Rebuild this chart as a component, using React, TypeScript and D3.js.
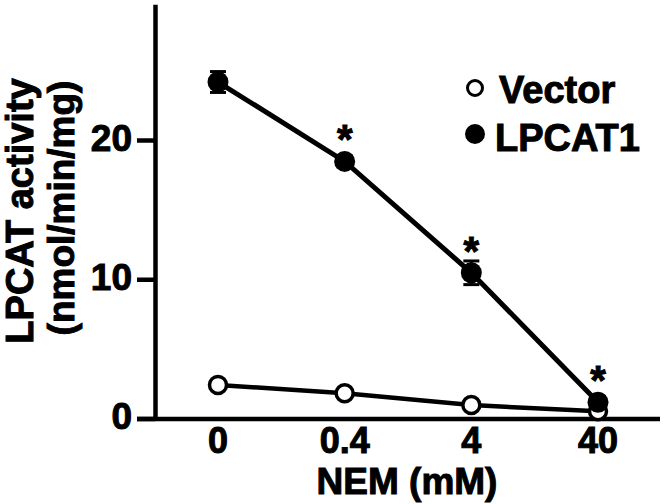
import React from "react";
import * as d3 from "d3";

const categories: string[] = ["0", "0.4", "4", "40"];
const vectorValues: number[] = [2.45, 1.85, 1.0, 0.55];
const vectorErrors: number[] = [0.2, 0.2, 0.2, 0.2];
const lpcatValues: number[] = [24.2, 18.5, 10.5, 1.2];
const lpcatErrors: number[] = [0.75, 0.4, 0.85, 0.4];
const significant: boolean[] = [false, true, true, true];
const yTicks: number[] = [0, 10, 20];
const seriesNames: string[] = ["Vector", "LPCAT1"];

const W = 664;
const H = 504;
const FONT = "'Liberation Sans', Arial, Helvetica, sans-serif";

export default function App() {
  const y = d3.scaleLinear().domain([0, 20]).range([419, 140.5]);
  const x = d3.scalePoint<string>().domain(categories).range([218, 598]);
  const axisX = 155.5;

  const line = d3
    .line<number>()
    .x((_, i) => x(categories[i]) as number)
    .y((d) => y(d));

  const errBars = (vals: number[], errs: number[], key: string) =>
    vals.map((v, i) => {
      const cx = x(categories[i]) as number;
      const top = y(v + errs[i]);
      const bot = y(Math.max(0, v - errs[i]));
      return (
        <g key={`${key}-${i}`} stroke="#000" strokeWidth={3}>
          <line x1={cx} x2={cx} y1={top} y2={bot} />
          <line x1={cx - 8} x2={cx + 8} y1={top} y2={top} />
          <line x1={cx - 8} x2={cx + 8} y1={bot} y2={bot} />
        </g>
      );
    });

  const txt = { fill: "#000", stroke: "#000", strokeWidth: 1 } as const;

  return (
    <svg
      width={W}
      height={H}
      style={{ position: "absolute", left: 0, top: 0, background: "#fff" }}
      fontFamily={FONT}
      fontWeight="bold"
    >
      <rect width={W} height={H} fill="#fff" />
      {/* Y axis */}
      <line x1={axisX} x2={axisX} y1={y(29.75)} y2={y(0) + 2} stroke="#000" strokeWidth={4.5} />
      {yTicks.map((t) => (
        <g key={t}>
          <line x1={137} x2={axisX} y1={y(t)} y2={y(t)} stroke="#000" strokeWidth={4.5} />
          <text x={132} y={y(t) + 10} textAnchor="end" fontSize={37} {...txt}>
            {t}
          </text>
        </g>
      ))}
      {/* X axis */}
      <line x1={137} x2={660} y1={y(0)} y2={y(0)} stroke="#000" strokeWidth={4.5} />
      {categories.map((c) => (
        <text key={c} x={x(c)} y={453} textAnchor="middle" fontSize={36} {...txt}>
          {c}
        </text>
      ))}
      <text x={407} y={494} textAnchor="middle" fontSize={37} {...txt}>
        NEM (mM)
      </text>
      {/* Y label */}
      <text transform="rotate(-90)" x={-211} y={33} textAnchor="middle" fontSize={38} {...txt}>
        LPCAT activity
      </text>
      <text transform="rotate(-90)" x={-208} y={74} textAnchor="middle" fontSize={37} {...txt}>
        (nmol/min/mg)
      </text>

      {/* Vector series */}
      <path d={line(vectorValues) || ""} fill="none" stroke="#000" strokeWidth={4.5} />
      {errBars(vectorValues, vectorErrors, "ve")}
      {vectorValues.map((v, i) => (
        <circle key={`v${i}`} cx={x(categories[i])} cy={y(v)} r={8.5} fill="#fff" stroke="#000" strokeWidth={3.5} />
      ))}

      {/* LPCAT1 series */}
      <path d={line(lpcatValues) || ""} fill="none" stroke="#000" strokeWidth={5} />
      {errBars(lpcatValues, lpcatErrors, "le")}
      {lpcatValues.map((v, i) => (
        <circle key={`l${i}`} cx={x(categories[i])} cy={y(v)} r={10.5} fill="#000" />
      ))}
      {lpcatValues.map((v, i) =>
        significant[i] ? (
          <text key={`s${i}`} x={x(categories[i])} y={y(v) - 8} textAnchor="middle" fontSize={40} {...txt}>
            *
          </text>
        ) : null
      )}

      {/* Legend */}
      <circle cx={475} cy={88} r={7.5} fill="#fff" stroke="#000" strokeWidth={3} />
      <text x={499} y={103} fontSize={38} {...txt}>
        {seriesNames[0]}
      </text>
      <circle cx={475} cy={134} r={10} fill="#000" />
      <text x={495} y={151} fontSize={38} {...txt}>
        {seriesNames[1]}
      </text>
    </svg>
  );
}
